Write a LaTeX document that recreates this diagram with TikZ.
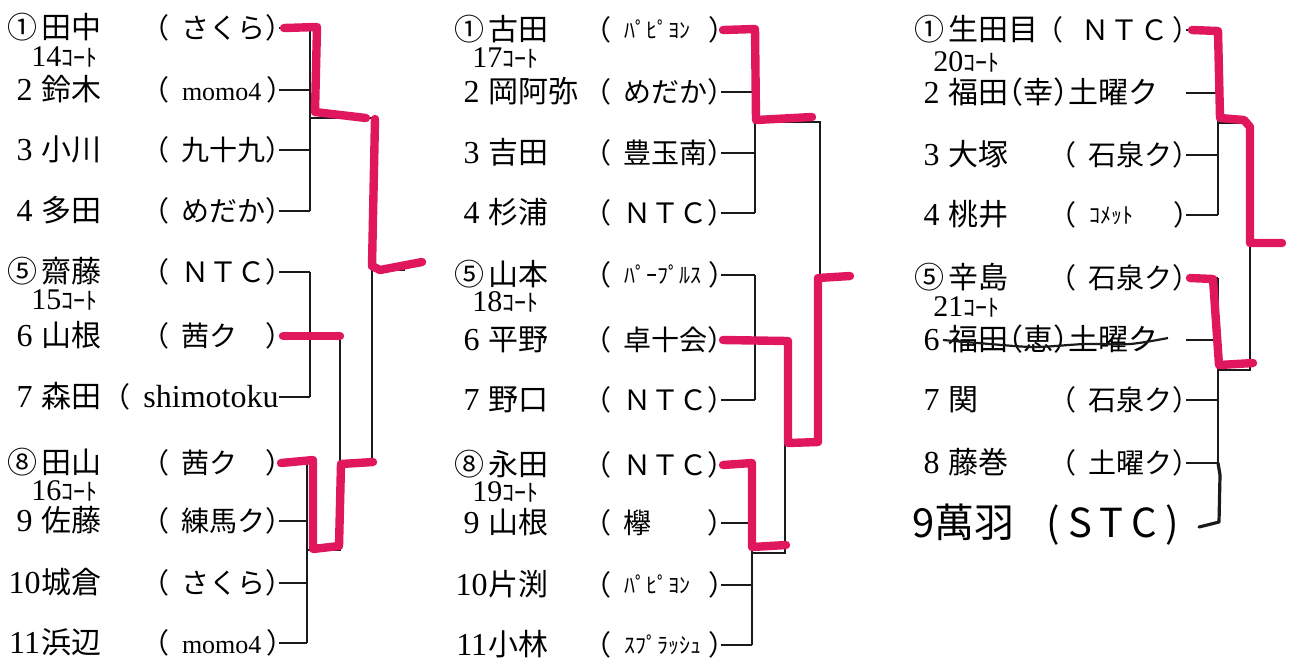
\documentclass[tikz,border=0pt]{standalone}
\usepackage{fontspec}
\setmainfont{Noto Sans CJK JP}
\newfontfamily\lat{Liberation Serif}
\definecolor{marker}{HTML}{E1175E}
\definecolor{ink}{HTML}{1A1A1A}
% small pieces of the printed sheet
\newcommand\lp{\makebox[1em][l]{\kern-0.45em（}}
\newcommand\rp{\makebox[0.45em][l]{）}}
\newcommand\lph{\makebox[0.5em][r]{（}}
\newcommand\rph{\makebox[0.5em][l]{）}}
\newcommand\nb[1]{\makebox[1.15em][c]{\lat\fontsize{16}{16}\selectfont #1}}
\newcommand\nc[1]{\makebox[1.15em][l]{#1}}
\newcommand\cb[2][3em]{\lp\makebox[#1][l]{#2}\rp}
\newcommand\kn[1]{\raisebox{1pt}{\fontsize{11}{11}\selectfont #1}}
\newcommand\mo{{\lat\fontsize{13}{13}\selectfont momo4}}
\newcommand\court[1]{{\lat\fontsize{15}{15}\selectfont #1}{\fontsize{12}{12}\selectfont ｺｰﾄ}}

\begin{document}
\begin{tikzpicture}[x=0.5pt, y=-0.5pt,
    plyr/.style={anchor=west, inner sep=0pt, text height=12pt, text depth=2pt,
                 font=\fontsize{15}{17}\selectfont},
    club/.style={anchor=east, inner sep=0pt, text height=12pt, text depth=2pt,
                 font=\fontsize{14}{16}\selectfont},
    court/.style={anchor=west, inner sep=0pt, text height=10.5pt, text depth=0pt},
    tie/.style={draw=ink, line width=0.6pt},
    hand/.style={draw=ink, line width=1.6pt, line cap=round, line join=round},
    win/.style={draw=marker, line width=4.2pt, line cap=round, line join=round}]
  \useasboundingbox (0,0) rectangle (1294,661);

  % left block
  \foreach \n/\y/\nm/\cl in {
    1/28/{\nc{①}田中}/{\cb{さくら}},
    2/90/{\nb{2}鈴木}/{\cb{\mo}},
    3/150/{\nb{3}小川}/{\cb{九十九}},
    4/211/{\nb{4}多田}/{\cb{めだか}},
    5/272/{\nc{⑤}齋藤}/{\cb{ＮＴＣ}},
    6/336/{\nb{6}山根}/{\cb{茜ク　}},
    7/397/{\nb{7}森田}/{\lp{\lat\fontsize{16}{16}\selectfont shimotoku}},
    8/463/{\nc{⑧}田山}/{\cb{茜ク　}},
    9/521/{\nb{9}佐藤}/{\cb{練馬ク}},
    10/583/{\nb{10}城倉}/{\cb{さくら}},
    11/643/{\nb{11}浜辺}/{\cb{\mo}}}{
    \node[plyr] (an\n) at (7,\y) {\nm};
    \node[club] (ac\n) at (279,\y) {\cl};
  }
  \node[court] (ak1) at (31,56) {\court{14}};
  \node[court] (ak2) at (31,299) {\court{15}};
  \node[court] (ak3) at (31,490) {\court{16}};

  \coordinate (ag1) at (310,118);
  \coordinate (ag2) at (310,336);
  \coordinate (ag3) at (307,550);
  \coordinate (as) at (340,463);
  \coordinate (af) at (372,270);
  \coordinate (aout) at (405,270);
  \foreach \n/\g in {1/g1,2/g1,3/g1,4/g1,5/g2,6/g2,7/g2,8/g3,9/g3,10/g3,11/g3}
    \draw[tie] (ac\n.east) -- (ac\n.east -| a\g);
  \draw[tie] (ac1.east -| ag1) -- (ac4.east -| ag1);
  \draw[tie] (ac5.east -| ag2) -- (ac7.east -| ag2);
  \draw[tie] (ac8.east -| ag3) -- (ac11.east -| ag3);
  \draw[tie] (ag1) -- (ag1 -| af) -- (as -| af) -- (as);
  \draw[tie] (ag2) -- (ag2 -| as) -- (ag3 -| as) -- (ag3);
  \draw[tie] (af) -- (aout);

  \draw[win] ([xshift=2.5pt]ac1.east) -- (317,27) -- (315,112) -- (366,118);
  \draw[win] (375,119) -- (372,266) -- (380,270) -- (422,262);
  \draw[win] ([xshift=2pt]ac6.east) -- (340,336);
  \draw[win] ([xshift=1pt]ac8.east) -- (313,460) -- (313,549) -- (339,546)
    -- (341,464) -- (373,462);

  % middle block
  \foreach \n/\y/\nm/\cl in {
    1/30/{\nc{①}古田}/{\cb{\kn{ﾊﾟﾋﾟﾖﾝ}}},
    2/92/{\nb{2}岡阿弥}/{\cb{めだか}},
    3/153/{\nb{3}吉田}/{\cb{豊玉南}},
    4/213/{\nb{4}杉浦}/{\cb{ＮＴＣ}},
    5/275/{\nc{⑤}山本}/{\cb{\kn{ﾊﾟｰﾌﾟﾙｽ}}},
    6/340/{\nb{6}平野}/{\cb{卓十会}},
    7/400/{\nb{7}野口}/{\cb{ＮＴＣ}},
    8/465/{\nc{⑧}永田}/{\cb{ＮＴＣ}},
    9/523/{\nb{9}山根}/{\cb{欅}},
    10/585/{\nb{10}片渕}/{\cb{\kn{ﾊﾟﾋﾟﾖﾝ}}},
    11/645/{\nb{11}小林}/{\cb{\kn{ｽﾌﾟﾗｯｼｭ}}}}{
    \node[plyr] (bn\n) at (454,\y) {\nm};
    \node[club] (bc\n) at (721,\y) {\cl};
  }
  \node[court] (bk1) at (472,57) {\court{17}};
  \node[court] (bk2) at (472,301) {\court{18}};
  \node[court] (bk3) at (472,491) {\court{19}};

  \coordinate (bg1) at (755,122);
  \coordinate (bg2) at (755,340);
  \coordinate (bg3) at (752,553);
  \coordinate (bs) at (785,443);
  \coordinate (bf) at (820,278);
  \coordinate (bout) at (848,278);
  \foreach \n/\g in {1/g1,2/g1,3/g1,4/g1,5/g2,6/g2,7/g2,8/g3,9/g3,10/g3,11/g3}
    \draw[tie] (bc\n.east) -- (bc\n.east -| b\g);
  \draw[tie] (bc1.east -| bg1) -- (bc4.east -| bg1);
  \draw[tie] (bc5.east -| bg2) -- (bc7.east -| bg2);
  \draw[tie] (bc8.east -| bg3) -- (bc11.east -| bg3);
  \draw[tie] (bg1) -- (bg1 -| bf) -- (bs -| bf) -- (bs);
  \draw[tie] (bg2) -- (bg2 -| bs) -- (bg3 -| bs) -- (bg3);
  \draw[tie] (bf) -- (bout);

  \draw[win] ([xshift=1pt]bc1.east) -- (755,29) -- (756,120) -- (812,117);
  \draw[win] ([xshift=1pt]bc6.east) -- (788,341) -- (788,443) -- (818,442)
    -- (818,278) -- (850,276);
  \draw[win] ([xshift=1pt]bc8.east) -- (752,463) -- (752,547) -- (786,545);

  % right block
  \foreach \n/\y/\nm/\cl in {
    1/30/{\nc{①}生田目}/{\cb[3.45em]{\,Ｎ\hfill Ｔ\hfill Ｃ\,}},
    2/93/{\nb{2}福田\lph 幸\rph 土曜ク}/{},
    3/155/{\nb{3}大塚}/{\cb{石泉ク}},
    4/215/{\nb{4}桃井}/{\cb{\kn{ｺﾒｯﾄ}}},
    5/278/{\nc{⑤}辛島}/{\cb{石泉ク}},
    6/340/{\nb{6}福田\lph 恵\rph 土曜ク}/{},
    7/400/{\nb{7}関}/{\cb{石泉ク}},
    8/463/{\nb{8}藤巻}/{\cb{土曜ク}}}{
    \node[plyr] (cn\n) at (914,\y) {\nm};
    \node[club] (cc\n) at (1186,\y) {\cl};
  }
  \node[plyr, font=\fontsize{20}{22}\selectfont] (cn9) at (912,527)
    {9萬羽\hspace{16pt}\makebox[66pt][s]{(\hfil S\hfil T\hfil C\hfil)}};
  \node[court] (ck1) at (933,61) {\court{20}};
  \node[court] (ck2) at (933,306) {\court{21}};

  \coordinate (cg1) at (1218,123);
  \coordinate (cg2) at (1218,370);
  \coordinate (cf) at (1250,245);
  \coordinate (cout) at (1278,245);
  \foreach \n/\g in {1/g1,2/g1,3/g1,4/g1,5/g2,6/g2,7/g2,8/g2}
    \draw[tie] (cc\n.east) -- (cc\n.east -| c\g);
  \draw[tie] (cc1.east -| cg1) -- (cc4.east -| cg1);
  \draw[tie] (cc5.east -| cg2) -- (cc8.east -| cg2);
  \draw[tie] (cg1) -- (cg1 -| cf) -- (cg2 -| cf) -- (cg2);
  \draw[tie] (cf) -- (cout);
  \draw[hand] ([xshift=10pt]cn9.east) -- (1219,522) -- (1220,475) -- (cc8.east -| cg2);
  \draw[ink, line width=1.1pt] plot[smooth] coordinates
    {(943,340) (990,344) (1035,347) (1085,344) (1130,344) (1168,338)};

  \draw[win] ([xshift=3pt]cc1.east) -- (1218,31) -- (1220,118) -- (1244,120)
    -- (1250,127) -- (1250,243) -- (1282,243);
  \draw[win] ([xshift=2pt]cc5.east) -- (1213,279) -- (1219,365) -- (1253,363);
\end{tikzpicture}
\end{document}
